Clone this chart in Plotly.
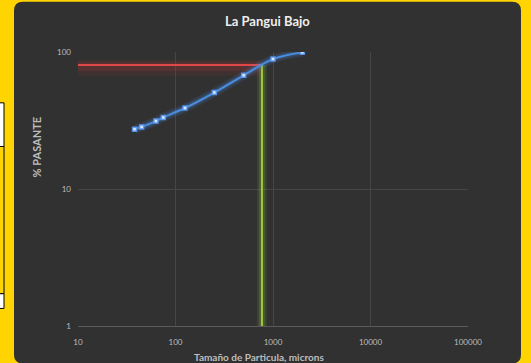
import plotly.graph_objects as go

# Data
size_microns = [38, 45, 63, 75, 125, 250, 500, 1000, 2000]
pct_passing = [27.3, 28.4, 31.3, 33.3, 39.0, 50.6, 67.6, 88.8, 99.4]
p80_value = 80.5
p80_size = 770
x_tickvals = [10, 100, 1000, 10000, 100000]
x_ticktext = ["10", "100", "1000", "10000", "100000"]
y_tickvals = [1, 10, 100]
y_ticktext = ["1", "10", "100"]

W, H = 531, 363
L, R, T, B = 78, 63, 51.5, 36.6
pw, ph = W - L - R, H - T - B


def px(x):
    return (x - L) / pw


def py(y):
    return (H - B - y) / ph


def rounded_rect(x0, y0, x1, y1, r):
    X0, X1 = px(x0), px(x1)
    Y0, Y1 = py(y0), py(y1)
    rx, ry = r / pw, r / ph
    return (f"M {X0+rx},{Y0} L {X1-rx},{Y0} Q {X1},{Y0} {X1},{Y0-ry} "
            f"L {X1},{Y1+ry} Q {X1},{Y1} {X1-rx},{Y1} L {X0+rx},{Y1} "
            f"Q {X0},{Y1} {X0},{Y1+ry} L {X0},{Y0-ry} Q {X0},{Y0} {X0+rx},{Y0} Z")


fig = go.Figure()

# red line glow (shadow extends downward)
for w, op, f in [(16, 0.10, 0.955), (9, 0.16, 0.975)]:
    fig.add_trace(go.Scatter(x=[10, p80_size], y=[p80_value * f, p80_value * f], mode="lines",
                             line=dict(color=f"rgba(200,50,50,{op})", width=w), hoverinfo="skip", showlegend=False))
# green line glow
for w, op in [(10, 0.12), (6, 0.18)]:
    fig.add_trace(go.Scatter(x=[p80_size, p80_size], y=[1, p80_value], mode="lines",
                             line=dict(color=f"rgba(150,200,60,{op})", width=w), hoverinfo="skip", showlegend=False))
fig.add_trace(go.Scatter(x=[10, p80_size], y=[p80_value, p80_value], mode="lines",
                         line=dict(color="#e04848", width=2), hoverinfo="skip", showlegend=False))
fig.add_trace(go.Scatter(x=[p80_size, p80_size], y=[1, p80_value], mode="lines",
                         line=dict(color="#9ccc3c", width=2), hoverinfo="skip", showlegend=False))

# blue glow
for w, op in [(9, 0.12), (5, 0.22)]:
    fig.add_trace(go.Scatter(x=size_microns, y=pct_passing, mode="lines",
                             line=dict(color=f"rgba(70,140,230,{op})", width=w, shape="spline"),
                             hoverinfo="skip", showlegend=False))
fig.add_trace(go.Scatter(x=size_microns, y=pct_passing, mode="lines+markers",
                         line=dict(color="#4a8ee0", width=2, shape="spline"),
                         marker=dict(size=4, symbol="square", color="#d8e8ff",
                                     line=dict(color="rgba(90,150,240,0.9)", width=1.5)),
                         showlegend=False))

shapes = [
    dict(type="path", xref="paper", yref="paper", path=rounded_rect(14, 1, 521, 364, 9),
         fillcolor="#313131", line=dict(width=0), layer="below"),
    dict(type="rect", xref="paper", yref="paper", x0=px(-2), x1=px(4), y0=py(102.5), y1=py(146.3),
         fillcolor="white", line=dict(color="black", width=1), layer="below"),
    dict(type="rect", xref="paper", yref="paper", x0=px(-2), x1=px(4), y0=py(146.3), y1=py(294),
         fillcolor="rgba(0,0,0,0)", line=dict(color="black", width=1), layer="below"),
    dict(type="rect", xref="paper", yref="paper", x0=px(-2), x1=px(4), y0=py(294), y1=py(308.8),
         fillcolor="white", line=dict(color="black", width=1), layer="below"),
]

annotations = [
    dict(text="<b>La Pangui Bajo</b>", xref="paper", yref="paper", x=px(267), y=py(20.7),
         showarrow=False, font=dict(size=13, color="#eeeeee", family="Lato"), xanchor="center", yanchor="middle"),
    dict(text="<b>% PASANTE</b>", xref="paper", yref="paper", x=px(36.6), y=py(146.6),
         showarrow=False, textangle=-90, font=dict(size=11, color="#bdbdbd", family="Lato"),
         xanchor="center", yanchor="middle"),
    dict(text="<b>Tamaño de Particula, microns</b>", xref="paper", yref="paper", x=px(259.4), y=py(358),
         showarrow=False, font=dict(size=10, color="#bdbdbd", family="Lato"), xanchor="center", yanchor="middle"),
]

fig.update_layout(
    width=W, height=H,
    margin=dict(l=L, r=R, t=T, b=B),
    paper_bgcolor="#ffd400",
    plot_bgcolor="rgba(0,0,0,0)",
    shapes=shapes,
    annotations=annotations,
    font=dict(family="Lato", color="#bdbdbd", size=8),
    xaxis=dict(type="log", range=[1, 5], tickvals=x_tickvals, ticktext=x_ticktext,
               showgrid=True, gridcolor="#464646", gridwidth=1, zeroline=False,
               showline=True, linecolor="#5a5a5a", linewidth=1, ticks="", ticklabelstandoff=8,
               tickfont=dict(size=8, color="#bdbdbd"), mirror=False),
    yaxis=dict(type="log", range=[0, 2], tickvals=y_tickvals, ticktext=y_ticktext,
               showgrid=True, gridcolor="#464646", gridwidth=1, zeroline=False,
               showline=False, ticks="", ticklabelstandoff=6,
               tickfont=dict(size=8, color="#bdbdbd")),
)

fig.write_html("out.html")
